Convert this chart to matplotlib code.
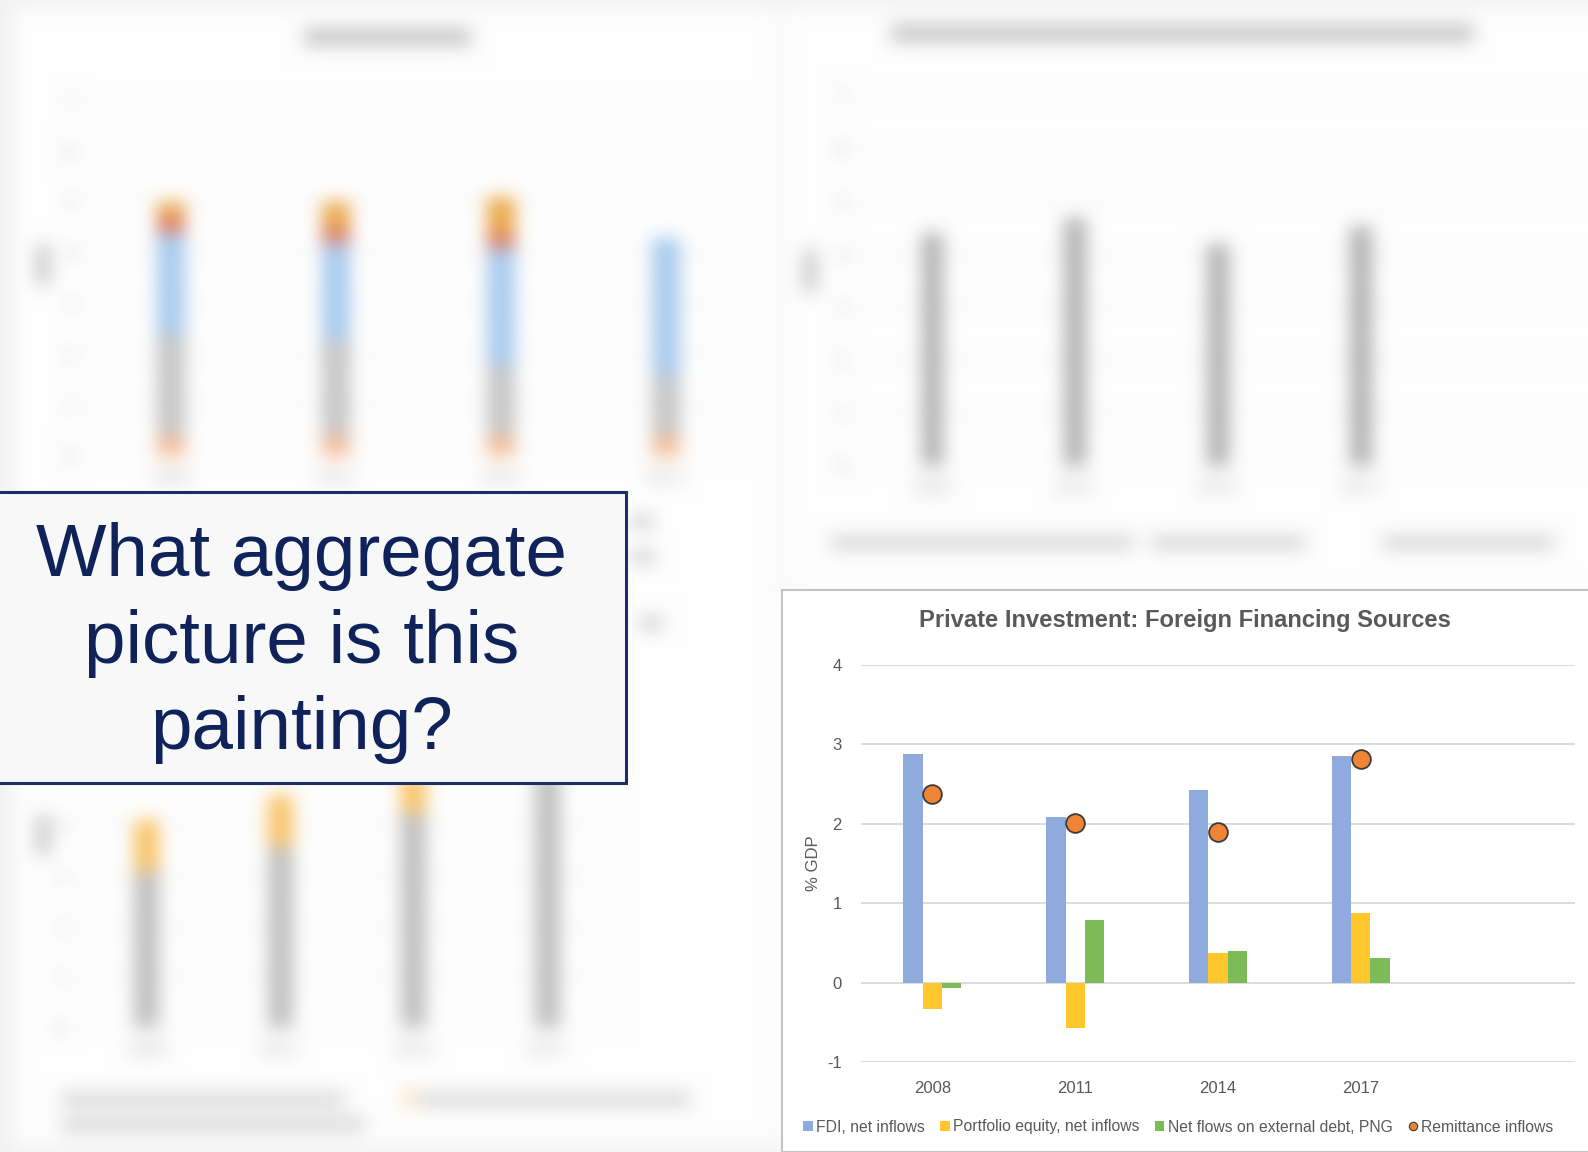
import numpy as np
import matplotlib
matplotlib.use('Agg')
import matplotlib.pyplot as plt
from matplotlib.figure import Figure
from matplotlib.backends.backend_agg import FigureCanvasAgg
from matplotlib.patches import Rectangle
from matplotlib.lines import Line2D
from matplotlib import font_manager as fm

plt.rcParams['axes.unicode_minus'] = False
W, H = 1588, 1152

# ---------------- data: clear chart ----------------
years = ['2008', '2011', '2014', '2017']
fdi = [2.88, 2.09, 2.42, 2.85]
portfolio = [-0.33, -0.57, 0.37, 0.88]
ext_debt = [-0.07, 0.79, 0.40, 0.31]
remittance = [2.38, 2.01, 1.90, 2.82]
series_names = ['FDI, net inflows', 'Portfolio equity, net inflows',
                'Net flows on external debt, PNG', 'Remittance inflows']
y_ticks = [-1, 0, 1, 2, 3, 4]
title = 'Private Investment: Foreign Financing Sources'
question = 'What aggregate\npicture is this\npainting?'

# ---------------- data: blurred background charts ----------------
tl_base_orange = [0.4, 0.4, 0.4, 0.4]
tl_gray = [2.0, 1.9, 1.4, 1.2]
tl_blue = [2.0, 1.9, 2.3, 2.7]
tl_red = [0.3, 0.3, 0.3, 0.0]
tl_orange = [0.3, 0.5, 0.7, 0.0]
tr_gray = [4.4, 4.7, 4.2, 4.55]
bl_gray = [3.1, 3.6, 4.25, 5.3]
bl_orange = [1.0, 1.0, 0.8, 0.0]
bg_ticks = [0, 1, 2, 3, 4, 5, 6, 7]

names = {f.name for f in fm.fontManager.ttflist}
narrow = 'Liberation Sans Narrow' if 'Liberation Sans Narrow' in names else 'Liberation Sans'
arial = 'Liberation Sans' if 'Liberation Sans' in names else 'DejaVu Sans'


def fx(x):
    return x / W


def fy(y):
    return 1 - y / H


def ax_rect(x0, y0, x1, y1):
    return [x0 / W, 1 - y1 / H, (x1 - x0) / W, (y1 - y0) / H]


# ================= blurred background slide =================
bg = Figure(figsize=(W / 100, H / 100), dpi=100, facecolor='#F2F2F2')
FigureCanvasAgg(bg)


def bg_rect(x0, y0, x1, y1, color, z=-5):
    bg.patches.append(Rectangle((fx(x0), fy(y1)), (x1 - x0) / W, (y1 - y0) / H,
                                transform=bg.transFigure, facecolor=color,
                                edgecolor='none', zorder=z))


bg_rect(13, 8, 778, 1145, '#FEFEFE', -10)
bg_rect(782, 8, 1588, 588, '#FEFEFE', -10)
bg_rect(782, 590, 1588, 1152, '#FEFEFE', -10)

blob = '#C8C8C8'
lblob = '#D4D4D4'
# titles / labels / legends as unreadable smudges
bg_rect(304, 28, 471, 46, blob)
bg_rect(36, 245, 50, 285, blob)
bg_rect(891, 24, 1474, 42, blob)
bg_rect(803, 250, 817, 292, blob)
bg_rect(830, 536, 1134, 549, lblob)
bg_rect(1150, 536, 1306, 549, lblob)
bg_rect(1382, 536, 1555, 549, lblob)
bg_rect(632, 516, 652, 528, blob)
bg_rect(632, 551, 654, 563, blob)
bg_rect(640, 617, 662, 629, blob)
bg_rect(36, 815, 50, 855, blob)
bg_rect(61, 1093, 345, 1106, lblob)
bg_rect(61, 1118, 365, 1131, lblob)
bg_rect(405, 1093, 415, 1103, '#F6C060')
bg_rect(420, 1093, 690, 1106, lblob)


def style_bg_axes(a, nslots):
    a.set_xlim(-0.5, nslots - 0.5)
    a.set_yticks(bg_ticks)
    a.grid(axis='y', color='#E8E8E8', lw=1.2)
    a.set_axisbelow(True)
    for s in a.spines.values():
        s.set_visible(False)
    a.tick_params(length=0, colors='#A8A8A8', labelsize=11, pad=10)
    a.patch.set_alpha(0)


x4 = np.arange(len(years))
# top-left stacked chart
a1 = bg.add_axes(ax_rect(89, 101, 748, 456))
b = np.zeros(4)
for vals, col in [(tl_base_orange, '#F6BC96'), (tl_gray, '#C6C6C6'),
                  (tl_blue, '#A8CBEE'), (tl_red, '#DE7A6A'), (tl_orange, '#EAAA4A')]:
    a1.bar(x4, vals, 0.17, bottom=b, color=col)
    b = b + np.array(vals)
a1.set_ylim(0, 7)
style_bg_axes(a1, 4)
a1.set_xticks(x4, years)

# top-right chart
a2 = bg.add_axes(ax_rect(861, 96, 1575, 466))
a2.bar(x4, tr_gray, 0.15, color='#B2B2B2')
a2.set_ylim(0, 7)
style_bg_axes(a2, 5)
a2.set_xticks(x4, years)

# bottom-left chart
a3 = bg.add_axes(ax_rect(80, 623, 614, 1028))
a3.bar(x4, bl_gray, 0.19, color='#C0C0C0')
a3.bar(x4, bl_orange, 0.19, bottom=bl_gray, color='#F9C468')
a3.set_ylim(0, 8)
style_bg_axes(a3, 4)
a3.set_xticks(x4, years)

bg.canvas.draw()
img = np.asarray(bg.canvas.buffer_rgba())[..., :3].astype(float) / 255.0


def box_blur(a, r, axis):
    pad = [(0, 0)] * a.ndim
    pad[axis] = (r + 1, r)
    p = np.pad(a, pad, mode='edge')
    c = np.cumsum(p, axis=axis)
    n = a.shape[axis]
    hi = np.take(c, np.arange(2 * r + 1, 2 * r + 1 + n), axis=axis)
    lo = np.take(c, np.arange(0, n), axis=axis)
    return (hi - lo) / (2 * r + 1)


for _ in range(3):
    img = box_blur(img, 8, 0)
    img = box_blur(img, 8, 1)
img = np.clip(img, 0, 1)

# ================= main figure =================
fig = plt.figure(figsize=(W / 100, H / 100), dpi=100, facecolor='#F2F2F2')
fig.figimage(img, 0, 0, zorder=0, origin='upper')

# clear chart panel
fig.patches.append(Rectangle((fx(782), 0), 1.01 - fx(782), fy(590),
                             transform=fig.transFigure, facecolor='white',
                             edgecolor='#C4C4C4', lw=1.5, zorder=1))

ax = fig.add_axes(ax_rect(861, 665, 1575, 1062), zorder=3)
ax.patch.set_alpha(0)
w = 0.135
ax.bar(x4 - w, fdi, w, color='#8FAADC', zorder=2)
ax.bar(x4, portfolio, w, color='#FFC72C', zorder=2)
ax.bar(x4 + w, ext_debt, w, color='#7CBB57', zorder=2)
ax.plot(x4, remittance, 'o', ms=13.5, mfc='#EE8434', mec='#3A3A3A', mew=1.3,
        ls='none', zorder=4)
ax.set_xlim(-0.5, 4.5)
ax.set_ylim(-1, 4)
ax.set_yticks(y_ticks)
ax.set_xticks(x4, years)
ax.grid(axis='y', color='#D9D9D9', lw=1.3)
ax.set_axisbelow(True)
for s in ax.spines.values():
    s.set_visible(False)
ax.tick_params(axis='both', length=0, colors='#595959', labelsize=12)
ax.tick_params(axis='y', pad=14)
ax.tick_params(axis='x', pad=14)
for lab in ax.get_xticklabels() + ax.get_yticklabels():
    lab.set_family(narrow)
ax.set_ylabel('% GDP', color='#595959', fontsize=12, family=narrow, labelpad=4)

ttl = fig.text(fx(1185), fy(620), title, ha='center', va='center', fontsize=19,
               fontweight='bold', color='#595959', family=narrow, zorder=5)

handles = [Rectangle((0, 0), 1, 1, fc='#8FAADC'), Rectangle((0, 0), 1, 1, fc='#FFC72C'),
           Rectangle((0, 0), 1, 1, fc='#7CBB57'),
           Line2D([], [], marker='o', ms=6, mfc='#EE8434', mec='#3A3A3A', mew=0.8, ls='none')]


def make_legend(size):
    lg = fig.legend(handles, series_names, loc='center', bbox_to_anchor=(fx(1178), fy(1127)),
                    ncol=4, frameon=False, handlelength=0.6, handleheight=0.6,
                    handletextpad=0.2, columnspacing=1.0, labelcolor='#595959',
                    prop={'family': narrow, 'size': size})
    lg.set_zorder(5)
    return lg


leg = make_legend(12)

# question box
fig.patches.append(Rectangle((fx(-3), fy(783)), 629 / W, (783 - 492) / H,
                             transform=fig.transFigure, facecolor='#F8F8F8',
                             edgecolor='#1B2E66', lw=2.2, zorder=6))
q = fig.text(fx(302), fy(643), question, ha='center', va='center', fontsize=54,
             color='#0F2259', family=arial, linespacing=1.33, zorder=7)

# fit a few text widths to the reference
fig.canvas.draw()
r = fig.canvas.get_renderer()
tw = ttl.get_window_extent(r).width
ttl.set_fontsize(19 * 531 / tw)
qw = q.get_window_extent(r).width
q.set_fontsize(54 * 530 / qw)
lw_ = leg.get_window_extent(r).width
leg.remove()
leg = make_legend(12 * 760 / lw_)

fig.savefig('out.png', dpi=100, facecolor=fig.get_facecolor())
